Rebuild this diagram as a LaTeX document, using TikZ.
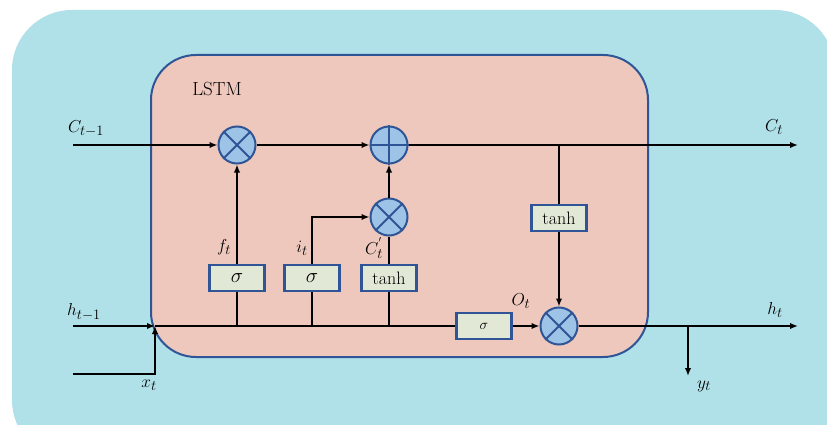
\documentclass[tikz,border=0pt]{standalone}
\usetikzlibrary{arrows.meta}
\definecolor{outerblue}{RGB}{176,224,232}
\definecolor{cellpink}{RGB}{238,200,188}
\definecolor{edgeblue}{RGB}{47,85,151}
\definecolor{boxfill}{RGB}{226,232,214}
\definecolor{opfill}{RGB}{157,195,230}
\begin{document}
\begin{tikzpicture}[x=1pt,y=-1pt,
  conn/.style={line width=2pt,black},
  arr/.style={conn,-{Latex[length=8pt,width=6.5pt]}},
  opnode/.style={circle,draw=edgeblue,line width=2pt,fill=opfill,minimum size=37pt,inner sep=0pt},
  gatebox/.style={rectangle,draw=edgeblue,line width=2.3pt,fill=boxfill,minimum width=55pt,minimum height=26pt,inner sep=0pt},
  lbl/.style={font=\fontsize{19}{22}\selectfont,inner sep=0pt},
  boxtxt/.style={font=\fontsize{18}{21}\selectfont}
]
\useasboundingbox (0,0) rectangle (827,425);
\clip (0,0) rectangle (827,425);
\fill[white] (0,0) rectangle (827,425);
\fill[outerblue,rounded corners=60pt] (12,10) rectangle (835,460);
\draw[edgeblue,line width=2pt,fill=cellpink,rounded corners=45pt] (151,55) rectangle (648,357);
\node[font=\fontsize{19}{22}\selectfont] (title) at (217,89) {LSTM};

% operator nodes
\node[opnode] (m1) at (237,145) {};
\node[opnode] (p1) at (389,145) {};
\node[opnode] (m2) at (389,217) {};
\node[opnode] (m3) at (559,326) {};
\foreach \n in {m1,m2,m3}{
  \draw[edgeblue,line width=2pt] (\n.north east) -- (\n.south west);
  \draw[edgeblue,line width=2pt] (\n.north west) -- (\n.south east);
}
\draw[edgeblue,line width=2pt] (p1.north) -- (p1.south);
\draw[edgeblue,line width=2pt] (p1.west) -- (p1.east);

% gate boxes
\node[gatebox,font=\fontsize{21}{24}\selectfont] (s1) at (237,278) {$\sigma$};
\node[gatebox,font=\fontsize{21}{24}\selectfont] (s2) at (312,278) {$\sigma$};
\node[gatebox,boxtxt] (t1) at (389,278) {tanh};
\node[gatebox,boxtxt] (t2) at (559,218) {tanh};
\node[gatebox,font=\fontsize{14}{16}\selectfont] (s3) at (484,326) {$\sigma$};

% coordinates
\coordinate (cin) at (73,145);
\coordinate (cout) at (798,145);
\coordinate (hin) at (73,326);
\coordinate (hj) at (155,326);
\coordinate (hout) at (798,326);
\coordinate (xin) at (73,374);
\coordinate (xc) at (155,374);
\coordinate (br) at (559,145);
\coordinate (yj) at (688,326);
\coordinate (yout) at (688,376);
\coordinate (ic) at (312,217);

% cell state line
\draw[arr] (cin) -- (m1.west);
\draw[arr] (m1.east) -- (p1.west);
\draw[arr] (p1.east) -- (cout);

% hidden line
\draw[arr] (hin) -- (hj);
\draw[arr] (xin) -- (xc) -- (hj);
\draw[conn] (hj) -- (s3.west);
\draw[arr] (s3.east) -- (m3.west);
\draw[arr] (m3.east) -- (hout);
\draw[arr] (yj) -- (yout);

% gates
\draw[conn] (s1.south |- hj) -- (s1.south);
\draw[arr] (s1.north) -- (m1.south);
\draw[conn] (s2.south |- hj) -- (s2.south);
\draw[arr] (s2.north) -- (ic) -- (m2.west);
\draw[conn] (t1.south |- hj) -- (t1.south);
\draw[conn] (t1.north) -- (m2.south);
\draw[arr] (m2.north) -- (p1.south);
\draw[conn] (br) -- (t2.north);
\draw[arr] (t2.south) -- (m3.north);

% labels
\node[lbl] (lc0) at (86,129) {$C_{t-1}$};
\node[lbl] (lc1) at (774,127) {$C_t$};
\node[lbl] (lh0) at (84,312) {$h_{t-1}$};
\node[lbl] (lh1) at (775,310) {$h_t$};
\node[lbl] (lx) at (149,385) {$x_t$};
\node[lbl] (ly) at (704,386) {$y_t$};
\node[lbl] (lf) at (224,247) {$f_t$};
\node[lbl] (li) at (302,248) {$i_t$};
\node[lbl] (lcp) at (374,248) {$C_t^{'}$};
\node[lbl] (lo) at (521,301) {$O_t$};
\end{tikzpicture}
\end{document}
